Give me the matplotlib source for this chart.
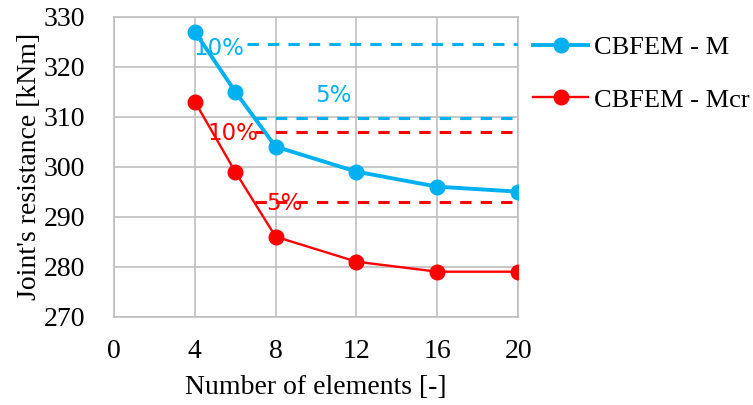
import numpy as np
import matplotlib
matplotlib.use("Agg")
import matplotlib.pyplot as plt

# data
n_elem = [4, 6, 8, 12, 16, 20]
m_res = [327, 315, 304, 299, 296, 295]
mcr_res = [313, 299, 286, 281, 279, 279]

blue = "#00B0F0"
red = "#FF0000"
grid_c = "#BFBFBF"

# reference levels: +10% and +5% of converged value
m_ref = m_res[-1]
mcr_ref = mcr_res[-1]

plt.rcParams['font.family'] = ['Liberation Serif', 'DejaVu Serif']

fig = plt.figure(figsize=(7.53, 4.05), dpi=100)
ax = fig.add_axes([0.1514, 0.218, 0.5366, 0.741])

ax.plot(n_elem, m_res, color=blue, lw=2.8, marker='o', ms=10.5, label='CBFEM - M', zorder=4)
ax.plot(n_elem, mcr_res, color=red, lw=1.7, marker='o', ms=10.5, label='CBFEM - Mcr', zorder=4)

dash = (0, (3.7, 3.0))
ax.plot([6.6, 20], [m_ref * 1.10] * 2, color=blue, lw=2.2, ls=dash, zorder=3)
ax.plot([7.0, 20], [m_ref * 1.05] * 2, color=blue, lw=2.2, ls=dash, zorder=3)
ax.plot([7.0, 20], [mcr_ref * 1.10] * 2, color=red, lw=2.2, ls=dash, zorder=3)
ax.plot([7.0, 20], [mcr_ref * 1.05] * 2, color=red, lw=2.2, ls=dash, zorder=3)

tfont = dict(family='DejaVu Sans', fontsize=16.5, va='center', ha='left', zorder=5)
ax.text(3.95, 323.7, '10%', color=blue, **tfont)
ax.text(9.95, 314.3, '5%', color=blue, **tfont)
ax.text(4.6, 306.7, '10%', color=red, **tfont)
ax.text(7.55, 292.7, '5%', color=red, **tfont)

ax.set_xlim(0, 20)
ax.set_ylim(270, 330)
ax.set_xticks([0, 4, 8, 12, 16, 20])
ax.set_yticks(np.arange(270, 331, 10))
ax.grid(True, color=grid_c, lw=1.2)
ax.set_axisbelow(True)
for s in ax.spines.values():
    s.set_color(grid_c)
    s.set_linewidth(1.2)
ax.tick_params(length=0, labelsize=20)
ax.tick_params(axis='x', pad=16)
ax.tick_params(axis='y', pad=21)
ax.set_xlabel('Number of elements [-]', fontsize=20, labelpad=8)
ax.set_ylabel("Joint's resistance [kNm]", fontsize=20, labelpad=1)

ax.legend(loc='upper left', bbox_to_anchor=(1.012, 0.972), frameon=False,
          fontsize=19, handlelength=2.05, handletextpad=0.25, labelspacing=1.1,
          borderaxespad=0)

fig.savefig('out.png', dpi=100)
